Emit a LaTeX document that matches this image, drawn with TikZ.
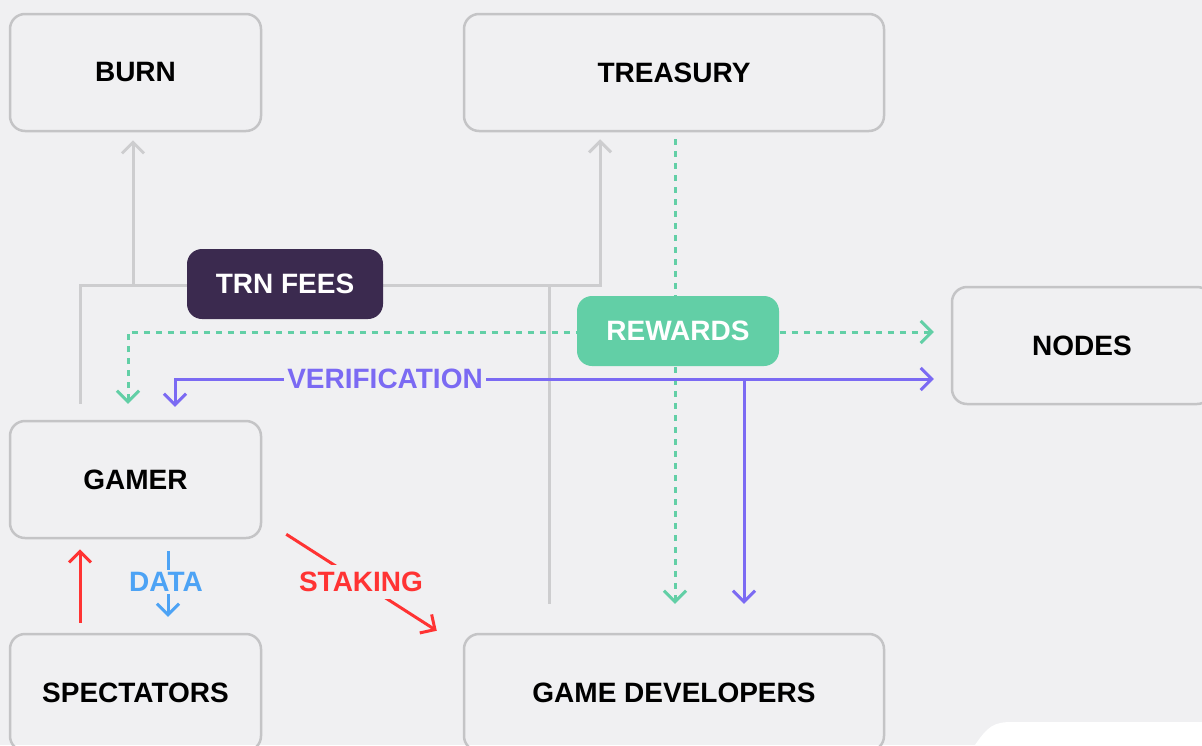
\documentclass[tikz,border=0pt]{standalone}
\usepackage{fontspec}
\setmainfont{Liberation Sans}
\usetikzlibrary{arrows.meta}

\definecolor{bgcol}{HTML}{F0F0F2}
\definecolor{boxgray}{HTML}{C4C4C6}
\definecolor{linegray}{HTML}{CDCDCF}
\definecolor{feecol}{HTML}{3B2A4F}
\definecolor{rewardcol}{HTML}{62CFA6}
\definecolor{verifycol}{HTML}{7B6AF3}
\definecolor{datacol}{HTML}{4DA3F5}
\definecolor{stakecol}{HTML}{FF3333}

\begin{document}
\begin{tikzpicture}[x=1pt, y=-1pt,
    bigfont/.style={font=\bfseries\fontsize{28}{30}\selectfont},
    box/.style={draw=boxgray, line width=2.5pt, rounded corners=15pt, minimum height=117pt, bigfont, text=black},
    pill/.style={fill=#1, rounded corners=15pt, minimum height=70pt, bigfont, text=white},
    tag/.style={fill=bgcol, inner xsep=3pt, inner ysep=2pt, bigfont},
    tip/.style={-{Straight Barb[length=11pt, width=22pt]}},
    twotip/.style={{Straight Barb[length=11pt, width=22pt]}-{Straight Barb[length=11pt, width=22pt]}},
    fee/.style={draw=linegray, line width=3pt},
    reward/.style={draw=rewardcol, line width=3pt, dash pattern=on 6pt off 6pt},
    verify/.style={draw=verifycol, line width=3pt},
    datalink/.style={draw=datacol, line width=3pt},
    stake/.style={draw=stakecol, line width=3pt}]

    % background
    \fill[bgcol] (0,0) rectangle (1202,745);
    \useasboundingbox (0,0) rectangle (1202,745);
    \fill[white] (975,745) .. controls (988,726) and (994,722) .. (1012,722) -- (1202,722) -- (1202,745) -- cycle;

    % boxes
    \node[box, minimum width=251pt] (burn) at (135.5,72.5) {BURN};
    \node[box, minimum width=420pt] (treasury) at (674,72.5) {TREASURY};
    \node[box, minimum width=260pt] (nodes) at (1082,345.5) {NODES};
    \node[box, minimum width=251pt] (gamer) at (135.5,479.5) {GAMER};
    \node[box, minimum width=251pt] (spectators) at (135.5,692.5) {SPECTATORS};
    \node[box, minimum width=420pt] (gamedev) at (674,692.5) {GAME DEVELOPERS};

    % fees
    \coordinate (feeL) at (80,285);
    \coordinate (feeR) at (600,285);
    \coordinate (feeB) at (133,285);
    \coordinate (feeD) at (549,285);
    \draw[fee, tip] ([xshift=-55.5pt, yshift=16pt]gamer.north) -- (feeL) -- (feeR) -- ([xshift=-74pt, yshift=-7pt]treasury.south);
    \draw[fee, tip] (feeB) -- ([xshift=-2.5pt, yshift=-8pt]burn.south);
    \draw[fee] (feeD) -- ([xshift=-125pt, yshift=29pt]gamedev.north);

    % rewards
    \draw[reward, tip] ([xshift=1pt, yshift=-7pt]treasury.south) -- ([xshift=1pt, yshift=29pt]gamedev.north);
    \draw[reward, twotip] ([xshift=-7.5pt, yshift=16pt]gamer.north) |- ([xshift=-17pt, yshift=13.5pt]nodes.west);

    % verification
    \coordinate (verJ) at (744,379);
    \draw[verify, twotip] ([xshift=39.5pt, yshift=13pt]gamer.north) |- ([xshift=-17pt, yshift=-33.5pt]nodes.west);
    \draw[verify, tip] (verJ) -- ([xshift=70pt, yshift=29pt]gamedev.north);

    % spectators, data, staking
    \draw[stake, tip] ([xshift=-55.5pt, yshift=10pt]spectators.north) -- ([xshift=-55.5pt, yshift=-10pt]gamer.south);
    \draw[datalink, tip] ([xshift=32.5pt, yshift=-12pt]gamer.south) -- ([xshift=32.5pt, yshift=16pt]spectators.north);
    \draw[stake, tip] ([xshift=24pt, yshift=5pt]gamer.south east) -- ([xshift=-26pt, yshift=2pt]gamedev.north west);

    % labels
    \node[pill=feecol, minimum width=196pt] (fees) at (285,284) {TRN FEES};
    \node[pill=rewardcol, minimum width=202pt] (rewards) at (678,331) {REWARDS};
    \node[tag, text=verifycol] (verlabel) at (385,379) {VERIFICATION};
    \node[tag, text=datacol] (datalabel) at (166,582) {DATA};
    \node[tag, text=stakecol, inner ysep=7pt] (stakelabel) at (361,582) {STAKING};
\end{tikzpicture}
\end{document}
